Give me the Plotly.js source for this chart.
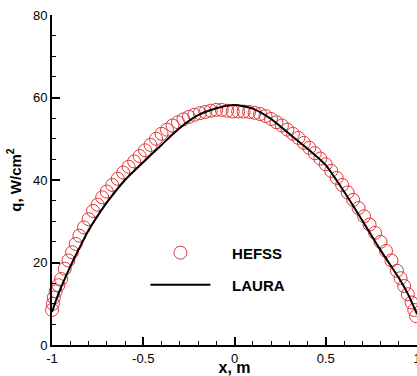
<!DOCTYPE html>
<html>
<head>
<meta charset="utf-8">
<script src="https://cdn.plot.ly/plotly-3.0.1.min.js"></script>
<style>html,body{margin:0;padding:0;background:#fff;}#chart{width:417px;height:376px;}</style>
</head>
<body>
<div id="chart"></div>
<script>
// HEFSS data (circles)
const hefssX = [-1.00,-0.995,-0.99,-0.98,-0.965,-0.95,-0.93,-0.91,-0.89,-0.87,-0.85,-0.825,-0.80,-0.775,-0.75,-0.725,-0.70,-0.67,-0.64,-0.61,-0.58,-0.55,-0.52,-0.49,-0.46,-0.43,-0.40,-0.37,-0.34,-0.31,-0.28,-0.25,-0.22,-0.19,-0.16,-0.13,-0.10,-0.07,-0.04,-0.01,0.02,0.05,0.08,0.11,0.14,0.17,0.20,0.23,0.26,0.29,0.32,0.35,0.38,0.41,0.44,0.47,0.50,0.53,0.56,0.59,0.62,0.65,0.68,0.71,0.74,0.77,0.80,0.83,0.86,0.89,0.91,0.93,0.95,0.97,0.985,0.995];
const hefssQ = [8.5,10,11.5,13,14.5,16,18.5,20.5,22.5,24.5,26.5,28.5,30.5,32.5,34,35.8,37.2,38.8,40.3,41.8,43.2,44.5,45.8,47.2,48.5,50,51.2,52.2,53.2,54,54.7,55.3,55.8,56.2,56.5,56.8,57,57,56.8,56.6,56.6,56.6,56.5,56.3,56,55.5,54.8,54,53.2,52.2,51.2,50.2,49,47.8,46.5,45.2,43.8,42.2,40.5,38.8,37,35.2,33.2,31.2,29.2,27.2,25,22.8,20.5,18,16.2,14.3,12.3,10.3,8.5,7];
// LAURA data (line)
const lauraX = [-1.0,-0.975,-0.95,-0.9,-0.85,-0.8,-0.75,-0.7,-0.6,-0.5,-0.4,-0.3,-0.2,-0.1,0.0,0.1,0.2,0.3,0.4,0.5,0.6,0.7,0.8,0.9,0.95,1.0];
const lauraQ = [8,11.2,14,19,23.5,27.8,31.3,34.5,40,44.3,48.5,52.6,55.7,57.4,58.2,57.3,54.8,51.2,47.6,43.6,37.2,30.2,23,16.3,12.4,7.5];
// Axis ticks
const xTicks = [-1,-0.5,0,0.5,1];
const xTickText = ['-1','-0.5','0','0.5','1'];
const yTicks = [0,20,40,60,80];
// Legend labels
const seriesNames = ['HEFSS','LAURA'];

const font = 'Liberation Sans, Arial, sans-serif';
const pad = '\u00A0\u00A0\u00A0\u00A0';

const traces = [
  {x: hefssX, y: hefssQ, name: pad + '<b>' + seriesNames[0] + '</b>', mode: 'markers', type: 'scatter', cliponaxis: false,
   marker: {symbol: 'circle-open', size: 13, color: '#e0363a', line: {width: 1, color: '#e0363a'}}, legend: 'legend'},
  {x: lauraX, y: lauraQ, name: pad + '<b>' + seriesNames[1] + '</b>', mode: 'lines', type: 'scatter', cliponaxis: false,
   line: {color: '#000', width: 2, shape: 'spline', smoothing: 0.6}, legend: 'legend2'}
];

const layout = {
  width: 417, height: 376,
  margin: {l: 52, r: 0, t: 15, b: 31, pad: 0},
  paper_bgcolor: '#fff', plot_bgcolor: '#fff',
  showlegend: true,
  font: {family: font, color: '#000', size: 13},
  xaxis: {range: [-1, 1], tickvals: xTicks, ticktext: xTickText, showgrid: false, zeroline: false,
    showline: true, linecolor: '#000', linewidth: 2, ticks: 'inside', ticklen: 8, tickwidth: 2, tickcolor: '#000',
    minor: {dtick: 0.1, ticks: 'inside', ticklen: 4, tickwidth: 1, tickcolor: '#000'},
    tickfont: {size: 13, family: font}, ticklabeloverflow: 'allow',
    title: {text: '<b>x, m</b>', font: {size: 16, family: font}, standoff: 0}},
  yaxis: {range: [0, 80], tickvals: yTicks, showgrid: false, zeroline: false,
    showline: true, linecolor: '#000', linewidth: 2, ticks: 'inside', ticklen: 8, tickwidth: 2, tickcolor: '#000',
    minor: {dtick: 5, ticks: 'inside', ticklen: 4, tickwidth: 1, tickcolor: '#000'},
    tickfont: {size: 13, family: font}, ticklabeloverflow: 'allow',
    title: {text: '<b>q, W/cm<sup>2</sup></b>', font: {size: 15, family: font}, standoff: 8}},
  legend: {x: 0.256, y: 0.279, xanchor: 'left', yanchor: 'middle', bgcolor: 'rgba(0,0,0,0)',
    font: {size: 15, family: font}, itemwidth: 60},
  legend2: {x: 0.256, y: 0.182, xanchor: 'left', yanchor: 'middle', bgcolor: 'rgba(0,0,0,0)',
    font: {size: 15, family: font}, itemwidth: 60}
};

Plotly.newPlot('chart', traces, layout, {staticPlot: true, displayModeBar: false});
</script>
</body>
</html>
